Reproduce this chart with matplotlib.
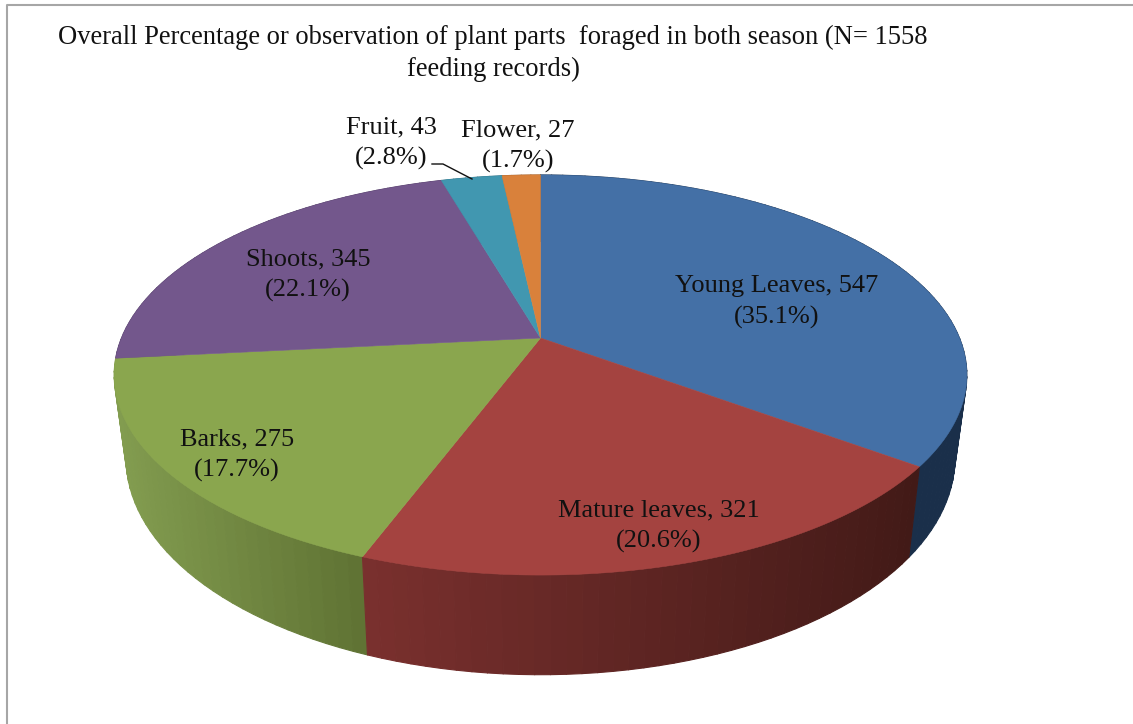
import numpy as np
import matplotlib
matplotlib.use("Agg")
import matplotlib.pyplot as plt
from matplotlib.collections import PolyCollection
from matplotlib.colors import to_rgb

parts = ["Young Leaves", "Mature leaves", "Barks", "Shoots", "Fruit", "Flower"]
records = [547, 321, 275, 345, 43, 27]
title = "Overall Percentage or observation of plant parts  foraged in both season (N= 1558\nfeeding records)"

top_colors = ["#4470a6", "#a44340", "#8aa64e", "#73578c", "#4197b0", "#d9813b"]
#side shade at left and right end of the visible wall
side_left = ["#1a2f4a", "#7a302e", "#839d50", "#4f3c62", "#2d6a7c", "#985a29"]
side_right = ["#1a2f4a", "#421a17", "#5f7233", "#4f3c62", "#2d6a7c", "#985a29"]
label_xy = [(777, 302), (659, 526), (237, 455), (308, 275), (391, 143), (518, 146)]

#pie geometry in pixels
#-----------------------------------------------------------------------------#
cx, cy = 540.5, 338
a, b, k = 419, 193.2, 0.185
shrink_x, stretch_y, drop = 0.972, 1.083, 80

def top_point(t):
    u, v = np.sin(t), np.cos(t)
    d = 1 + k*v
    return a*u/d, -b*v/d

def to_px(X, Y):
    return np.column_stack((cx + X, cy + Y))

def rim(t):
    X, Y = top_point(t)
    return to_px(X, Y), to_px(shrink_x*X, stretch_y*Y + drop)

fig = plt.figure(figsize=(11.33, 7.24), dpi=100)
ax = fig.add_axes([0, 0, 1, 1])
ax.set_xlim(0, 1133)
ax.set_ylim(724, 0)
ax.axis("off")

fracs = np.array(records)/sum(records)
edges = np.concatenate(([0], np.cumsum(fracs)))*2*np.pi

#side wall first, back to front
#-----------------------------------------------------------------------------#
quads = []
cols = []
depth = []
for i in range(len(records)):
    n = max(int(fracs[i]*200), 4)
    ts = np.linspace(edges[i], edges[i+1], n + 1)
    up, low = rim(ts)
    xmin, xmax = up[:, 0].min(), up[:, 0].max()
    c0, c1 = np.array(to_rgb(side_left[i])), np.array(to_rgb(side_right[i]))
    for j in range(n):
        quads.append([up[j], up[j+1], low[j+1], low[j]])
        f = ((up[j, 0] + up[j+1, 0])/2 - xmin)/(xmax - xmin)
        cols.append(c0 + (c1 - c0)*f)
        depth.append(np.cos((ts[j] + ts[j+1])/2))
order = np.argsort(depth)[::-1]
ax.add_collection(PolyCollection([quads[o] for o in order], facecolors=[cols[o] for o in order],
                                 edgecolors=[cols[o] for o in order], linewidths=0.8))

#top face
#-----------------------------------------------------------------------------#
for i in range(len(records)):
    ts = np.linspace(edges[i], edges[i+1], 200)
    up = rim(ts)[0]
    ax.fill(np.r_[cx, up[:, 0]], np.r_[cy, up[:, 1]], color=top_colors[i], lw=0.4)

#text
#-----------------------------------------------------------------------------#
font = ["Liberation Serif", "DejaVu Serif"]
for i in range(len(parts)):
    ax.text(label_xy[i][0], label_xy[i][1], f"{parts[i]}, {records[i]}\n({fracs[i]*100:.1f}%)",
            family=font, fontsize=19, color="#111111", ha="center", va="center",
            multialignment="center", linespacing=1.48)
ax.text(493, 53.5, title, family=font, fontsize=19.1, color="#111111", ha="center", va="center",
        multialignment="center", linespacing=1.33)

ax.plot([432, 443, 472], [164, 164, 179], color="#111111", lw=1)

#chart frame, only top and left visible
ax.plot([7, 7, 1133], [724, 5, 5], color="#a6a6a6", lw=1.5)

fig.savefig("out.png", dpi=100)
